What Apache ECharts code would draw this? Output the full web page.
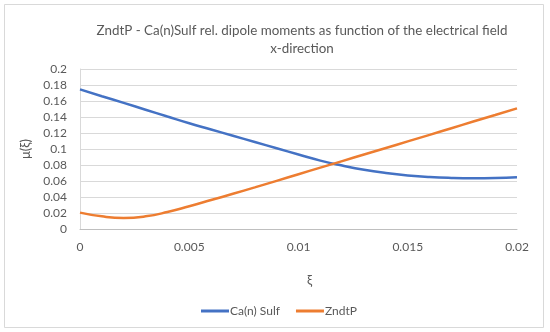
<!DOCTYPE html>
<html><head><meta charset="utf-8">
<script src="https://cdn.jsdelivr.net/npm/echarts@6/dist/echarts.min.js"></script>
<style>html,body{margin:0;padding:0;background:#fff}#c{width:550px;height:332px}</style>
</head><body><div id="c"></div>
<script>
const xi = [0, 0.001, 0.002, 0.003, 0.004, 0.005, 0.006, 0.007, 0.008, 0.009, 0.010, 0.011, 0.012, 0.013, 0.014, 0.015, 0.016, 0.017, 0.018, 0.019, 0.020];
const caSulf = [0.1745, 0.1660, 0.1576, 0.1491, 0.1406, 0.1322, 0.1244, 0.1166, 0.1088, 0.1010, 0.0932, 0.0855, 0.0793, 0.0740, 0.0700, 0.0670, 0.0650, 0.0639, 0.0635, 0.0638, 0.0647];
const zndtp = [0.0205, 0.0158, 0.0138, 0.0158, 0.0212, 0.0285, 0.0362, 0.0440, 0.0520, 0.0602, 0.0685, 0.0767, 0.0849, 0.0931, 0.1013, 0.1095, 0.1177, 0.1260, 0.1343, 0.1425, 0.1508];
const seriesNames = ['Ca(n) Sulf', 'ZndtP'];
const titleText = 'ZndtP - Ca(n)Sulf rel. dipole moments as function of the electrical field\nx-direction';

const FONT = 'Lato';
const GREY = '#595959';
const chart = echarts.init(document.getElementById('c'), null, {renderer: 'canvas'});
chart.setOption({
  animation: false,
  backgroundColor: '#fff',
  textStyle: {fontFamily: FONT},
  graphic: [{type: 'rect', shape: {x: 4.5, y: 4.5, width: 539, height: 323}, style: {fill: 'none', stroke: '#d9d9d9', lineWidth: 1}, silent: true}],
  title: {
    text: titleText, left: 297, top: 17, textAlign: 'center',
    textStyle: {fontFamily: FONT, fontSize: 13.4, fontWeight: 'normal', color: GREY, lineHeight: 18}
  },
  legend: {
    data: seriesNames, left: 196, top: 300, itemWidth: 28, itemHeight: 3, itemGap: 16,
    icon: 'rect',
    textStyle: {fontFamily: FONT, fontSize: 12, color: GREY, padding: [0, 0, 0, -4]}
  },
  grid: {left: 80, right: 33, top: 69, bottom: 103, containLabel: false},
  xAxis: {
    type: 'value', min: 0, max: 0.02, interval: 0.005,
    name: 'ξ', nameLocation: 'middle', nameGap: 45,
    nameTextStyle: {fontFamily: FONT, fontSize: 13, color: GREY, padding: [0, 0, 0, 22]},
    axisLine: {show: true, lineStyle: {color: '#bfbfbf', width: 1}},
    axisTick: {show: false},
    splitLine: {show: false},
    axisLabel: {color: GREY, fontSize: 12, margin: 12, fontFamily: FONT, formatter: v => String(+v.toFixed(3))}
  },
  yAxis: {
    type: 'value', min: 0, max: 0.2, interval: 0.02,
    name: 'μ(ξ)', nameLocation: 'middle', nameGap: 45, nameRotate: 90,
    nameTextStyle: {fontFamily: FONT, fontSize: 13, color: GREY},
    axisLine: {show: true, lineStyle: {color: '#d9d9d9', width: 1}},
    axisTick: {show: false},
    splitLine: {show: true, lineStyle: {color: '#d9d9d9', width: 1}},
    axisLabel: {color: GREY, fontSize: 12, margin: 13, fontFamily: FONT, formatter: v => String(+v.toFixed(2))}
  },
  series: [
    {name: seriesNames[0], type: 'line', smooth: true, showSymbol: false, data: xi.map((x, i) => [x, caSulf[i]]), lineStyle: {color: '#4472C4', width: 2.5}, itemStyle: {color: '#4472C4'}},
    {name: seriesNames[1], type: 'line', smooth: true, showSymbol: false, data: xi.map((x, i) => [x, zndtp[i]]), lineStyle: {color: '#ED7D31', width: 2.5}, itemStyle: {color: '#ED7D31'}}
  ]
});
</script></body></html>
